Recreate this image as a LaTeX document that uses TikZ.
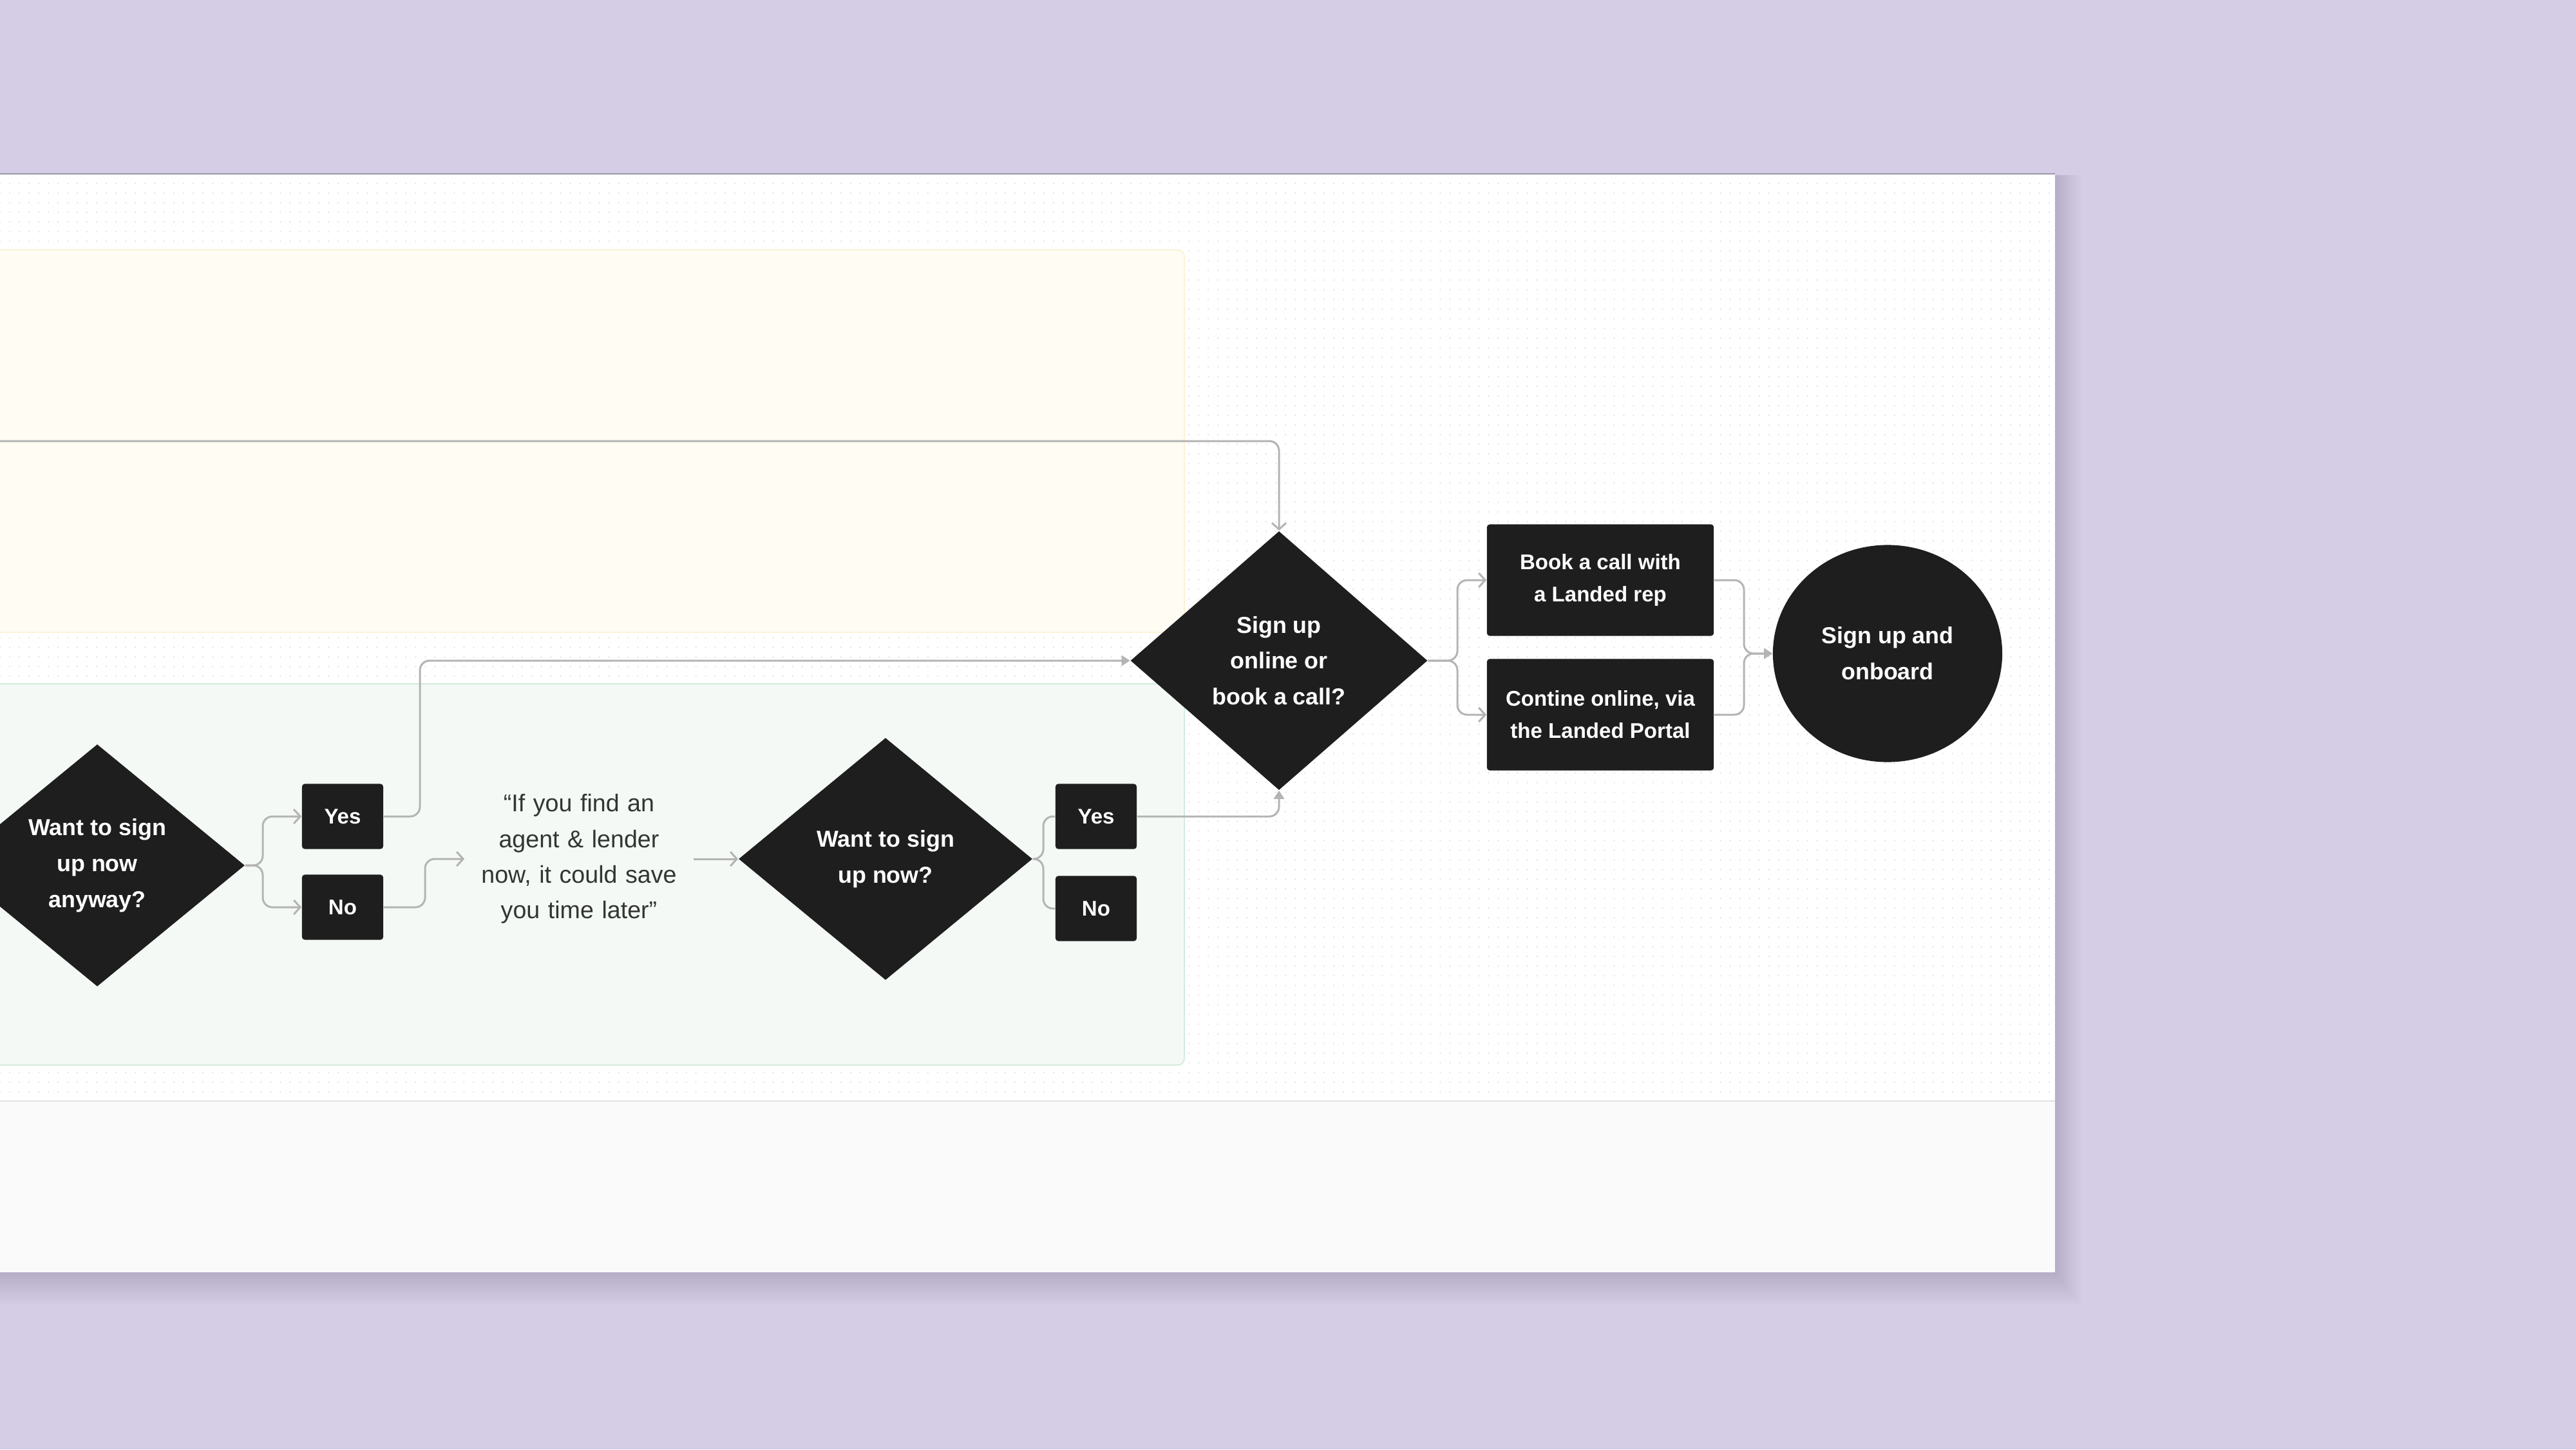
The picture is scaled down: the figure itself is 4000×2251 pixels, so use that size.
\documentclass[tikz,border=0pt]{standalone}
\usepackage{fontspec}
\setmainfont{Liberation Sans}
\usetikzlibrary{shapes.geometric,arrows.meta,patterns}

\definecolor{lavender}{HTML}{D5CDE5}
\definecolor{nodeblack}{HTML}{1E1E1E}
\definecolor{linegray}{HTML}{B4B4B4}
\definecolor{lanecream}{HTML}{FFFCF4}
\definecolor{lanecreamline}{HTML}{FBF3D8}
\definecolor{lanemint}{HTML}{F4F9F5}
\definecolor{lanemintline}{HTML}{D3ECDC}
\definecolor{footgray}{HTML}{FAFAFA}
\definecolor{dotgray}{HTML}{DCDCDC}
\definecolor{quotegray}{HTML}{333533}
\definecolor{edgegray}{HTML}{9A95A8}

\pgfdeclarepatternformonly{griddots}{\pgfpoint{-1pt}{-1pt}}{\pgfpoint{1pt}{1pt}}{\pgfpoint{4.268pt}{4.268pt}}{%
  \pgfpathcircle{\pgfpointorigin}{0.32pt}\pgfusepath{fill}}

\tikzset{
  decision/.style={diamond, fill=nodeblack, inner sep=0pt, text=white, align=center,
    font=\fontsize{10.2}{15.85}\selectfont\bfseries},
  answer/.style={rectangle, fill=nodeblack, rounded corners=1.2pt, text=white, inner sep=0pt,
    minimum width=1.26cm, minimum height=1.01cm, font=\fontsize{9.4}{14.2}\selectfont\bfseries},
  route/.style={answer, align=center, minimum width=3.52cm, minimum height=1.73cm},
  hintbox/.style={text width=3.2cm, inner xsep=0.17cm, align=center, text=quotegray,
    font=\fontsize{10.7}{15.75}\selectfont},
  flow/.style={draw=linegray, line width=0.03cm, rounded corners=0.15cm},
  opentip/.style={-{Straight Barb[length=0.1cm,width=0.22cm]}},
  filledtip/.style={-{Triangle[length=0.13cm,width=0.16cm]}}
}

\begin{document}
\begin{tikzpicture}[x=0.01cm,y=-0.01cm]
  \useasboundingbox (0,0) rectangle (4000,2251);
  \fill[lavender] (0,0) rectangle (4000,2251);

  % card with its shadow
  \foreach \s in {1,...,10}
    \fill[black,opacity=0.012] (-50,272) rectangle (3191+4*\s,1976+5*\s);
  \fill[white] (-50,270) rectangle (3191,1976);
  \fill[pattern=griddots,pattern color=dotgray] (-50,272) rectangle (3191,1710);
  \fill[footgray] (-50,1710) rectangle (3191,1976);
  \draw[line width=0.02cm,color=black!11] (-50,1710) -- (3191,1710);
  \draw[line width=0.025cm,color=edgegray] (-50,270) -- (3191,270);

  % lanes
  \filldraw[fill=lanecream,draw=lanecreamline,line width=0.02cm,rounded corners=0.1cm]
     (-50,388) rectangle (1839,982);
  \filldraw[fill=lanemint,draw=lanemintline,line width=0.02cm,rounded corners=0.1cm]
     (-50,1062) rectangle (1839,1654);

  \node[decision,minimum width=4.58cm,minimum height=3.76cm] (anyway) at (151,1344)
     {Want to sign\\up now\\anyway?};
  \node[answer] (yesA) at (532,1268) {Yes};
  \node[answer] (noA) at (532,1409) {No};
  \node[hintbox] (hint) at (899,1334)
     {“If you find an\\agent \& lender\\now, it could save\\you time later”};
  \node[decision,minimum width=4.56cm,minimum height=3.76cm] (signnow) at (1375,1334)
     {Want to sign\\up now?};
  \node[answer] (yesB) at (1702,1268) {Yes};
  \node[answer] (noB) at (1702,1411) {No};
  \node[decision,minimum width=4.61cm,minimum height=4.02cm] (channel) at (1986,1026)
     {Sign up\\online or\\book a call?};
  \node[route] (call) at (2485,901) {Book a call with\\a Landed rep};
  \node[route] (online) at (2485,1110) {Contine online, via\\the Landed Portal};
  \node[ellipse,fill=nodeblack,text=white,align=center,inner sep=0pt,
     minimum width=3.56cm,minimum height=3.37cm,
     font=\fontsize{10.2}{15.85}\selectfont\bfseries] (onboard) at (2931,1015)
     {Sign up and\\onboard};

  \coordinate (offcard) at (-20,685);

  \draw[flow,opentip] (offcard) -| (channel.north);
  \draw[flow,opentip] (anyway.east) -- (408,1344) |- (yesA.west);
  \draw[flow,opentip] (anyway.east) -- (408,1344) |- (noA.west);
  \draw[flow,filledtip] (yesA.east) -- (652,1268) |- (channel.west);
  \draw[flow,opentip] (noA.east) -- (660,1409) |- (hint.west);
  \draw[flow,opentip] (hint.east) -- (signnow.west);
  \draw[flow] (signnow.east) -- (1620,1334) |- (yesB.west);
  \draw[flow] (signnow.east) -- (1620,1334) |- (noB.west);
  \draw[flow,filledtip] (yesB.east) -| (channel.south);
  \draw[flow,opentip] (channel.east) -- (2263,1026) |- (call.west);
  \draw[flow,opentip] (channel.east) -- (2263,1026) |- (online.west);
  \draw[flow,filledtip] (call.east) -- (2708,901) |- (onboard.west);
  \draw[flow,filledtip] (online.east) -- (2708,1110) |- (onboard.west);
\end{tikzpicture}
\end{document}
